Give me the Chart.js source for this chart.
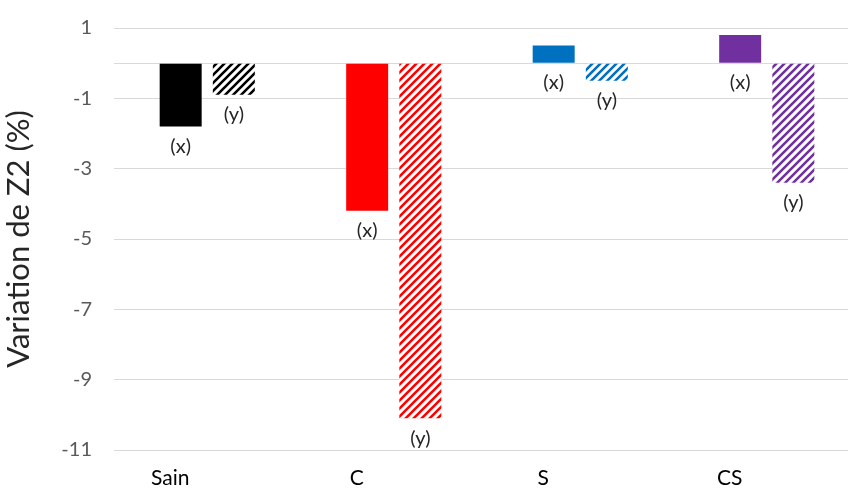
<!DOCTYPE html>
<html>
<head>
<meta charset="utf-8">
<script src="https://cdn.jsdelivr.net/npm/chart.js@4/dist/chart.umd.min.js"></script>
<style>
  html, body { margin: 0; padding: 0; background: #fff; overflow: hidden; }
  #wrap { width: 860px; height: 493px; position: relative; }
</style>
</head>
<body>
<div id="wrap"><canvas id="chart"></canvas></div>
<script>
// Variation de Z2 (%) per group, (x) solid and (y) hatched
const categories = ['Sain', 'C', 'S', 'CS'];
const xValues = [-1.8, -4.2, 0.5, 0.8];
const yValues = [-0.9, -10.1, -0.5, -3.4];
const yTicks = [1, -1, -3, -5, -7, -9, -11];
const seriesLabels = ['(x)', '(y)'];
const groupColors = ['#000000', '#ff0000', '#0070c0', '#7030a0'];

const FONT = 'Lato, "Open Sans", sans-serif';

function hatch(color){
  const c = document.createElement('canvas');
  c.width = 8; c.height = 8;
  const g = c.getContext('2d');
  g.fillStyle = '#fff';
  g.fillRect(0, 0, 8, 8);
  g.strokeStyle = color;
  g.lineWidth = 2.6;
  g.beginPath();
  g.moveTo(-2, 10); g.lineTo(10, -2);
  g.moveTo(-6, 6); g.lineTo(6, -6);
  g.moveTo(2, 14); g.lineTo(14, 2);
  g.stroke();
  return g.createPattern(c, 'repeat');
}

// writes (x)/(y) under each bar end
const barLabels = {
  id: 'barLabels',
  afterDatasetsDraw(chart){
    const ctx = chart.ctx;
    ctx.save();
    ctx.font = '20px ' + FONT;
    ctx.fillStyle = '#262626';
    ctx.textAlign = 'center';
    ctx.textBaseline = 'middle';
    chart.data.datasets.forEach((ds, i) => {
      chart.getDatasetMeta(i).data.forEach(el => {
        const bottom = Math.max(el.y, el.base);
        ctx.fillText(seriesLabels[i], el.x, bottom + 20);
      });
    });
    ctx.restore();
  }
};

new Chart(document.getElementById('chart').getContext('2d'), {
  type: 'bar',
  data: {
    labels: categories,
    datasets: [
      { label: seriesLabels[0], data: xValues, backgroundColor: groupColors, borderWidth: 0 },
      { label: seriesLabels[1], data: yValues, backgroundColor: groupColors.map(hatch), borderWidth: 0 }
    ]
  },
  options: {
    responsive: true,
    maintainAspectRatio: false,
    animation: false,
    categoryPercentage: 0.57,
    barPercentage: 0.79,
    layout: { padding: { top: 28, left: 0, right: 0, bottom: 0 } },
    plugins: { legend: { display: false }, tooltip: { enabled: false } },
    scales: {
      x: {
        grid: { display: false },
        border: { display: false },
        ticks: { color: '#000', font: { family: FONT, size: 21 }, padding: 8, labelOffset: -37 },
        afterFit: s => { s.height = 43; }
      },
      y: {
        min: -11, max: 1,
        afterBuildTicks: s => { s.ticks = yTicks.concat([0]).sort((a, b) => a - b).map(v => ({ value: v })); },
        grid: { color: '#d9d9d9', lineWidth: 1, drawTicks: false },
        border: { display: false },
        ticks: {
          color: '#595959', font: { family: FONT, size: 20 }, padding: 22,
          callback: v => v === 0 ? '' : v
        },
        title: { display: true, text: 'Variation de Z2 (%)', color: '#262626', font: { family: FONT, size: 31 }, padding: { top: 0, bottom: 2 } },
        afterFit: s => { s.width = 114; s.paddingTop = 10; s.paddingBottom = 10; }
      }
    }
  },
  plugins: [barLabels]
});
</script>
</body>
</html>
